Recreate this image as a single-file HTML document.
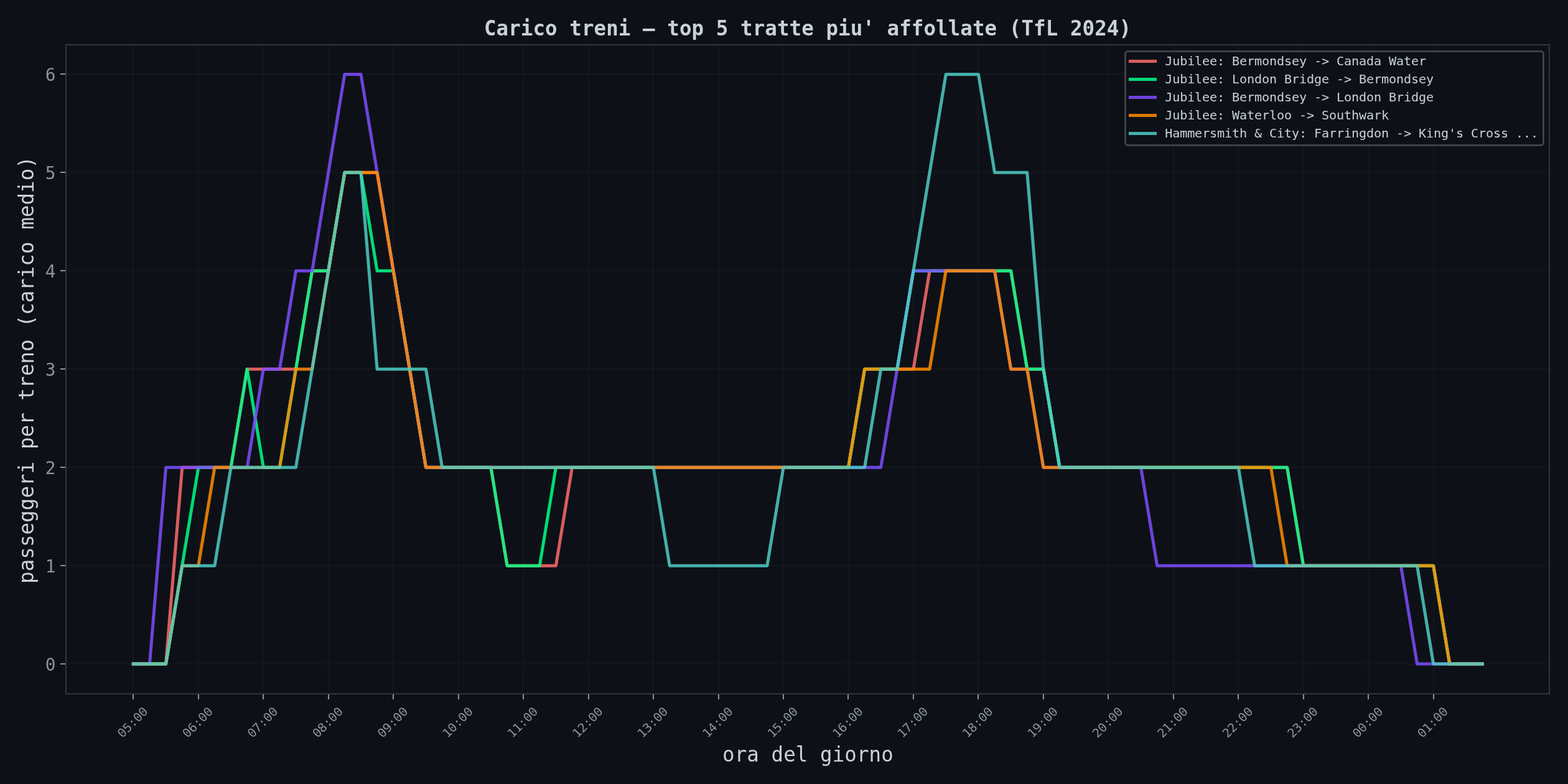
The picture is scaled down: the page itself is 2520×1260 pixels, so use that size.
<!DOCTYPE html>
<html lang="it">
<head>
<meta charset="utf-8">
<title>Carico treni — top 5 tratte piu' affollate (TfL 2024)</title>
<style>
html,body{margin:0;padding:0;background:#0d1117;}
body{width:2520px;height:1260px;overflow:hidden;}
svg{display:block;}
</style>
</head>
<body>
<svg width="2520" height="1260" viewBox="0 0 2520 1260" role="img">
<rect x="0" y="0" width="2520" height="1260" fill="#0d1117"/>
<g stroke="#21262d" stroke-opacity="0.3" stroke-width="2" fill="none">
<path d="M214 72V1114.5"/>
<path d="M319 72V1114.5"/>
<path d="M423 72V1114.5"/>
<path d="M528 72V1114.5"/>
<path d="M632 72V1114.5"/>
<path d="M737 72V1114.5"/>
<path d="M841 72V1114.5"/>
<path d="M946 72V1114.5"/>
<path d="M1050 72V1114.5"/>
<path d="M1155 72V1114.5"/>
<path d="M1259 72V1114.5"/>
<path d="M1363 72V1114.5"/>
<path d="M1468 72V1114.5"/>
<path d="M1572 72V1114.5"/>
<path d="M1677 72V1114.5"/>
<path d="M1781 72V1114.5"/>
<path d="M1886 72V1114.5"/>
<path d="M1990 72V1114.5"/>
<path d="M2095 72V1114.5"/>
<path d="M2199 72V1114.5"/>
<path d="M2304 72V1114.5"/>
<path d="M106 1067H2490.4"/>
<path d="M106 909H2490.4"/>
<path d="M106 751H2490.4"/>
<path d="M106 593H2490.4"/>
<path d="M106 435H2490.4"/>
<path d="M106 277H2490.4"/>
<path d="M106 119H2490.4"/>
</g>
<g stroke="#8b949e" stroke-width="2" fill="none">
<path d="M214 1115V1124"/>
<path d="M319 1115V1124"/>
<path d="M423 1115V1124"/>
<path d="M528 1115V1124"/>
<path d="M632 1115V1124"/>
<path d="M737 1115V1124"/>
<path d="M841 1115V1124"/>
<path d="M946 1115V1124"/>
<path d="M1050 1115V1124"/>
<path d="M1155 1115V1124"/>
<path d="M1259 1115V1124"/>
<path d="M1363 1115V1124"/>
<path d="M1468 1115V1124"/>
<path d="M1572 1115V1124"/>
<path d="M1677 1115V1124"/>
<path d="M1781 1115V1124"/>
<path d="M1886 1115V1124"/>
<path d="M1990 1115V1124"/>
<path d="M2095 1115V1124"/>
<path d="M2199 1115V1124"/>
<path d="M2304 1115V1124"/>
<path d="M97 1067H106"/>
<path d="M97 909H106"/>
<path d="M97 751H106"/>
<path d="M97 593H106"/>
<path d="M97 435H106"/>
<path d="M97 277H106"/>
<path d="M97 119H106"/>
</g>
<g fill="none" stroke-width="5" stroke-opacity="0.85" stroke-linejoin="round" stroke-linecap="square">
<path d="M214.38 1067.11L266.61 1067.11L292.73 751.2L371.08 751.2L397.19 593.25L475.54 593.25L501.66 435.3L527.78 435.3L553.89 277.34L606.12 277.34L684.47 751.2L788.94 751.2L815.05 909.16L893.4 909.16L919.52 751.2L1363.49 751.2L1389.61 593.25L1467.95 593.25L1494.07 435.3L1624.65 435.3L1650.77 593.25L1676.88 593.25L1703 751.2L2068.62 751.2L2094.74 909.16L2303.67 909.16L2329.79 1067.11L2382.02 1067.11" stroke="#ff6b6b"/>
<path d="M214.38 1067.11L266.61 1067.11L318.85 751.2L371.08 751.2L397.19 593.25L423.31 751.2L449.43 751.2L501.66 435.3L527.78 435.3L553.89 277.34L580.01 277.34L606.12 435.3L632.24 435.3L684.47 751.2L788.94 751.2L815.05 909.16L867.28 909.16L893.4 751.2L1363.49 751.2L1389.61 593.25L1441.84 593.25L1467.95 435.3L1624.65 435.3L1650.77 593.25L1676.88 593.25L1703 751.2L2068.62 751.2L2094.74 909.16L2303.67 909.16L2329.79 1067.11L2382.02 1067.11" stroke="#00ff88"/>
<path d="M214.38 1067.11L240.5 1067.11L266.61 751.2L397.19 751.2L423.31 593.25L449.43 593.25L475.54 435.3L501.66 435.3L553.89 119.39L580.01 119.39L684.47 751.2L1415.72 751.2L1467.95 435.3L1598.54 435.3L1624.65 593.25L1650.77 593.25L1676.88 751.2L1833.58 751.2L1859.7 909.16L2251.44 909.16L2277.55 1067.11L2382.02 1067.11" stroke="#7c4dff"/>
<path d="M214.38 1067.11L266.61 1067.11L292.73 909.16L318.85 909.16L344.96 751.2L449.43 751.2L475.54 593.25L501.66 593.25L553.89 277.34L606.12 277.34L684.47 751.2L1363.49 751.2L1389.61 593.25L1494.07 593.25L1520.19 435.3L1598.54 435.3L1624.65 593.25L1650.77 593.25L1676.88 751.2L2042.51 751.2L2068.62 909.16L2303.67 909.16L2329.79 1067.11L2382.02 1067.11" stroke="#ff8c00"/>
<path d="M214.38 1067.11L266.61 1067.11L292.73 909.16L344.96 909.16L371.08 751.2L475.54 751.2L553.89 277.34L580.01 277.34L606.12 593.25L684.47 593.25L710.59 751.2L1050.1 751.2L1076.21 909.16L1232.91 909.16L1259.03 751.2L1389.61 751.2L1415.72 593.25L1441.84 593.25L1520.19 119.39L1572.42 119.39L1598.54 277.34L1650.77 277.34L1676.88 593.25L1703 751.2L1990.28 751.2L2016.39 909.16L2277.55 909.16L2303.67 1067.11L2382.02 1067.11" stroke="#4ecdc4"/>
</g>
<g stroke="#30363d" stroke-width="2" fill="none" stroke-linecap="square">
<path d="M106 1114.5V72"/><path d="M2490 1114.5V72"/><path d="M106 1115H2490.4"/><path d="M106 72H2490.4"/>
</g>
<rect x="1808.5" y="82.5" width="672" height="151" rx="4" ry="4" fill="#0d1117" stroke="#575a5e" stroke-width="2.5" opacity="0.8"/>
<g fill="none" stroke-width="5" stroke-opacity="0.85" stroke-linecap="square">
<path d="M1816.5 98.5H1856.5" stroke="#ff6b6b"/>
<path d="M1816.5 127.5H1856.5" stroke="#00ff88"/>
<path d="M1816.5 156.5H1856.5" stroke="#7c4dff"/>
<path d="M1816.5 185.5H1856.5" stroke="#ff8c00"/>
<path d="M1816.5 214.5H1856.5" stroke="#4ecdc4"/>
</g>
<g font-family="'DejaVu Sans Mono','Liberation Mono',monospace">
<text font-size="32.5" fill="#c9d1d9" textLength="274.75" transform="translate(1161.08 1223.86) scale(1 1.01)">ora del giorno</text>
<text font-size="20" fill="#8b949e" textLength="58.53" transform="translate(196.81 1186.78) rotate(-45) scale(1.02 0.97)">05:00</text>
<text font-size="20" fill="#8b949e" textLength="58.53" transform="translate(301.27 1186.78) rotate(-45) scale(1.02 0.97)">06:00</text>
<text font-size="20" fill="#8b949e" textLength="58.53" transform="translate(405.74 1186.78) rotate(-45) scale(1.02 0.97)">07:00</text>
<text font-size="20" fill="#8b949e" textLength="58.53" transform="translate(510.2 1186.78) rotate(-45) scale(1.02 0.97)">08:00</text>
<text font-size="20" fill="#8b949e" textLength="58.53" transform="translate(614.67 1186.78) rotate(-45) scale(1.02 0.97)">09:00</text>
<text font-size="20" fill="#8b949e" textLength="58.53" transform="translate(719.13 1186.78) rotate(-45) scale(1.02 0.97)">10:00</text>
<text font-size="20" fill="#8b949e" textLength="58.53" transform="translate(823.59 1186.78) rotate(-45) scale(1.02 0.97)">11:00</text>
<text font-size="20" fill="#8b949e" textLength="58.53" transform="translate(928.06 1186.78) rotate(-45) scale(1.02 0.97)">12:00</text>
<text font-size="20" fill="#8b949e" textLength="58.53" transform="translate(1032.52 1186.78) rotate(-45) scale(1.02 0.97)">13:00</text>
<text font-size="20" fill="#8b949e" textLength="58.53" transform="translate(1136.99 1186.78) rotate(-45) scale(1.02 0.97)">14:00</text>
<text font-size="20" fill="#8b949e" textLength="58.53" transform="translate(1241.45 1186.78) rotate(-45) scale(1.02 0.97)">15:00</text>
<text font-size="20" fill="#8b949e" textLength="58.53" transform="translate(1345.92 1186.78) rotate(-45) scale(1.02 0.97)">16:00</text>
<text font-size="20" fill="#8b949e" textLength="58.53" transform="translate(1450.38 1186.78) rotate(-45) scale(1.02 0.97)">17:00</text>
<text font-size="20" fill="#8b949e" textLength="58.53" transform="translate(1554.84 1186.78) rotate(-45) scale(1.02 0.97)">18:00</text>
<text font-size="20" fill="#8b949e" textLength="58.53" transform="translate(1659.31 1186.78) rotate(-45) scale(1.02 0.97)">19:00</text>
<text font-size="20" fill="#8b949e" textLength="58.53" transform="translate(1763.77 1186.78) rotate(-45) scale(1.02 0.97)">20:00</text>
<text font-size="20" fill="#8b949e" textLength="58.53" transform="translate(1868.24 1186.78) rotate(-45) scale(1.02 0.97)">21:00</text>
<text font-size="20" fill="#8b949e" textLength="58.53" transform="translate(1972.7 1186.78) rotate(-45) scale(1.02 0.97)">22:00</text>
<text font-size="20" fill="#8b949e" textLength="58.53" transform="translate(2077.17 1186.78) rotate(-45) scale(1.02 0.97)">23:00</text>
<text font-size="20" fill="#8b949e" textLength="58.53" transform="translate(2181.63 1186.78) rotate(-45) scale(1.02 0.97)">00:00</text>
<text font-size="20" fill="#8b949e" textLength="58.53" transform="translate(2286.1 1186.78) rotate(-45) scale(1.02 0.97)">01:00</text>
<text font-size="32.5" fill="#c9d1d9" textLength="686.88" transform="translate(53.5 937.94) rotate(-90) scale(1 1.05)">passeggeri per treno (carico medio)</text>
<text font-size="27.5" fill="#8b949e" transform="translate(72.75 1077.61) scale(1.01 1.025)">0</text>
<text font-size="27.5" fill="#8b949e" transform="translate(72.75 919.66) scale(1.01 1.025)">1</text>
<text font-size="27.5" fill="#8b949e" transform="translate(72.75 761.7) scale(1.01 1.025)">2</text>
<text font-size="27.5" fill="#8b949e" transform="translate(72.75 603.75) scale(1.01 1.025)">3</text>
<text font-size="27.5" fill="#8b949e" transform="translate(72.75 445.8) scale(1.01 1.025)">4</text>
<text font-size="27.5" fill="#8b949e" transform="translate(72.75 287.84) scale(1.01 1.025)">5</text>
<text font-size="27.5" fill="#8b949e" transform="translate(72.75 129.89) scale(1.01 1.025)">6</text>
<text font-size="32.5" fill="#c9d1d9" textLength="1040.12" font-weight="700" transform="translate(777.89 56.5) scale(1 1.01)">Carico treni — top 5 tratte piu' affollate (TfL 2024)</text>
<text font-size="20" fill="#c9d1d9" textLength="415.84" transform="translate(1872.15 104.5) scale(1.01 0.945)">Jubilee: Bermondsey -&gt; Canada Water</text>
<text font-size="20" fill="#c9d1d9" textLength="427.72" transform="translate(1872.15 133.5) scale(1.01 0.945)">Jubilee: London Bridge -&gt; Bermondsey</text>
<text font-size="20" fill="#c9d1d9" textLength="427.72" transform="translate(1872.15 162.5) scale(1.01 0.945)">Jubilee: Bermondsey -&gt; London Bridge</text>
<text font-size="20" fill="#c9d1d9" textLength="356.44" transform="translate(1872.15 191.5) scale(1.01 0.945)">Jubilee: Waterloo -&gt; Southwark</text>
<text font-size="20" fill="#c9d1d9" textLength="594.06" transform="translate(1872.15 220.5) scale(1.01 0.945)">Hammersmith &amp; City: Farringdon -&gt; King's Cross ...</text>
</g>
</svg>
</body>
</html>
